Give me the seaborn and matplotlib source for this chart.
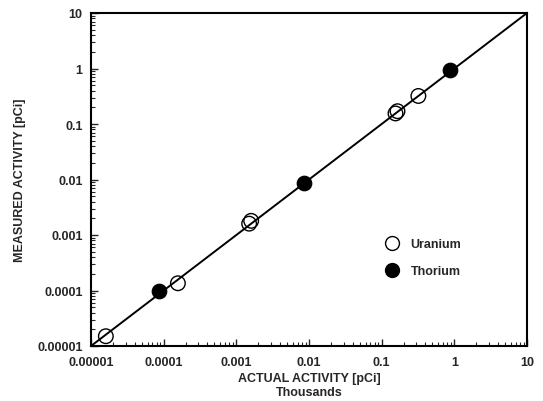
import matplotlib
matplotlib.use("Agg")
import matplotlib.pyplot as plt
import matplotlib.ticker as mticker
import seaborn as sns
import pandas as pd
import numpy as np
from matplotlib.lines import Line2D

uranium_x = [1.6e-5, 1.57e-4, 1.5e-3, 1.6e-3, 0.155, 0.165, 0.32]
uranium_y = [1.5e-5, 1.35e-4, 1.6e-3, 1.8e-3, 0.155, 0.17, 0.32]
thorium_x = [8.6e-5, 8.6e-3, 0.88]
thorium_y = [1.0e-4, 8.5e-3, 0.95]
line_x = [1e-5, 10]
line_y = [1e-5, 10]
tick_vals = [1e-5, 1e-4, 1e-3, 1e-2, 1e-1, 1, 10]
tick_labels = ["0.00001", "0.0001", "0.001", "0.01", "0.1", "1", "10"]

sns.set_style("ticks")
plt.rcParams['font.family'] = ['Liberation Sans', 'DejaVu Sans']
plt.rcParams['font.weight'] = 'bold'

fig = plt.figure(figsize=(5.43, 4.02), dpi=100)
ax = fig.add_axes([91/543, 1-347/402, (527-91)/543, (347-14)/402])

sns.lineplot(x=line_x, y=line_y, ax=ax, color="black", linewidth=1.4)

df = pd.DataFrame({
    "x": uranium_x + thorium_x,
    "y": uranium_y + thorium_y,
    "s": ["Uranium"] * len(uranium_x) + ["Thorium"] * len(thorium_x),
})
du = df[df.s == "Uranium"]
dt = df[df.s == "Thorium"]
sns.scatterplot(data=du, x="x", y="y", ax=ax, s=110, facecolor="none",
                edgecolor="black", linewidth=1.0, zorder=3)
sns.scatterplot(data=dt, x="x", y="y", ax=ax, s=110, color="black",
                edgecolor="black", zorder=3)

ax.set_xscale("log")
ax.set_yscale("log")
ax.set_xlim(1e-5, 10)
ax.set_ylim(1e-5, 10)
ax.set_xticks(tick_vals)
ax.set_xticklabels(tick_labels)
ax.set_yticks(tick_vals)
ax.set_yticklabels(tick_labels)
ax.xaxis.set_minor_locator(mticker.LogLocator(subs=np.arange(2, 10)))
ax.yaxis.set_minor_locator(mticker.LogLocator(subs=np.arange(2, 10)))
ax.xaxis.set_minor_formatter(mticker.NullFormatter())
ax.yaxis.set_minor_formatter(mticker.NullFormatter())
ax.tick_params(which="major", direction="in", length=5, width=1.0, labelsize=9)
ax.tick_params(axis="x", which="major", pad=7)
ax.tick_params(axis="y", which="major", pad=6)
ax.tick_params(which="minor", direction="in", length=3, width=0.8)
for sp in ax.spines.values():
    sp.set_linewidth(1.5)
    sp.set_color("black")

ax.set_xlabel("ACTUAL ACTIVITY [pCi]\nThousands", fontsize=9, fontweight="bold",
              labelpad=3, linespacing=1.2)
ax.set_ylabel("MEASURED ACTIVITY [pCi]", fontsize=9, fontweight="bold", labelpad=8)

handles = [
    Line2D([], [], marker="o", linestyle="none", markersize=10, markerfacecolor="none",
           markeredgecolor="black", markeredgewidth=1.0),
    Line2D([], [], marker="o", linestyle="none", markersize=10, markerfacecolor="black",
           markeredgecolor="black"),
]
ax.legend(handles, ["Uranium", "Thorium"], loc="upper left",
          bbox_to_anchor=((368-91)/436, 1-(228-14)/333), frameon=False,
          fontsize=9, labelspacing=1.2, handletextpad=0.5)

fig.savefig("out.png", dpi=100)
